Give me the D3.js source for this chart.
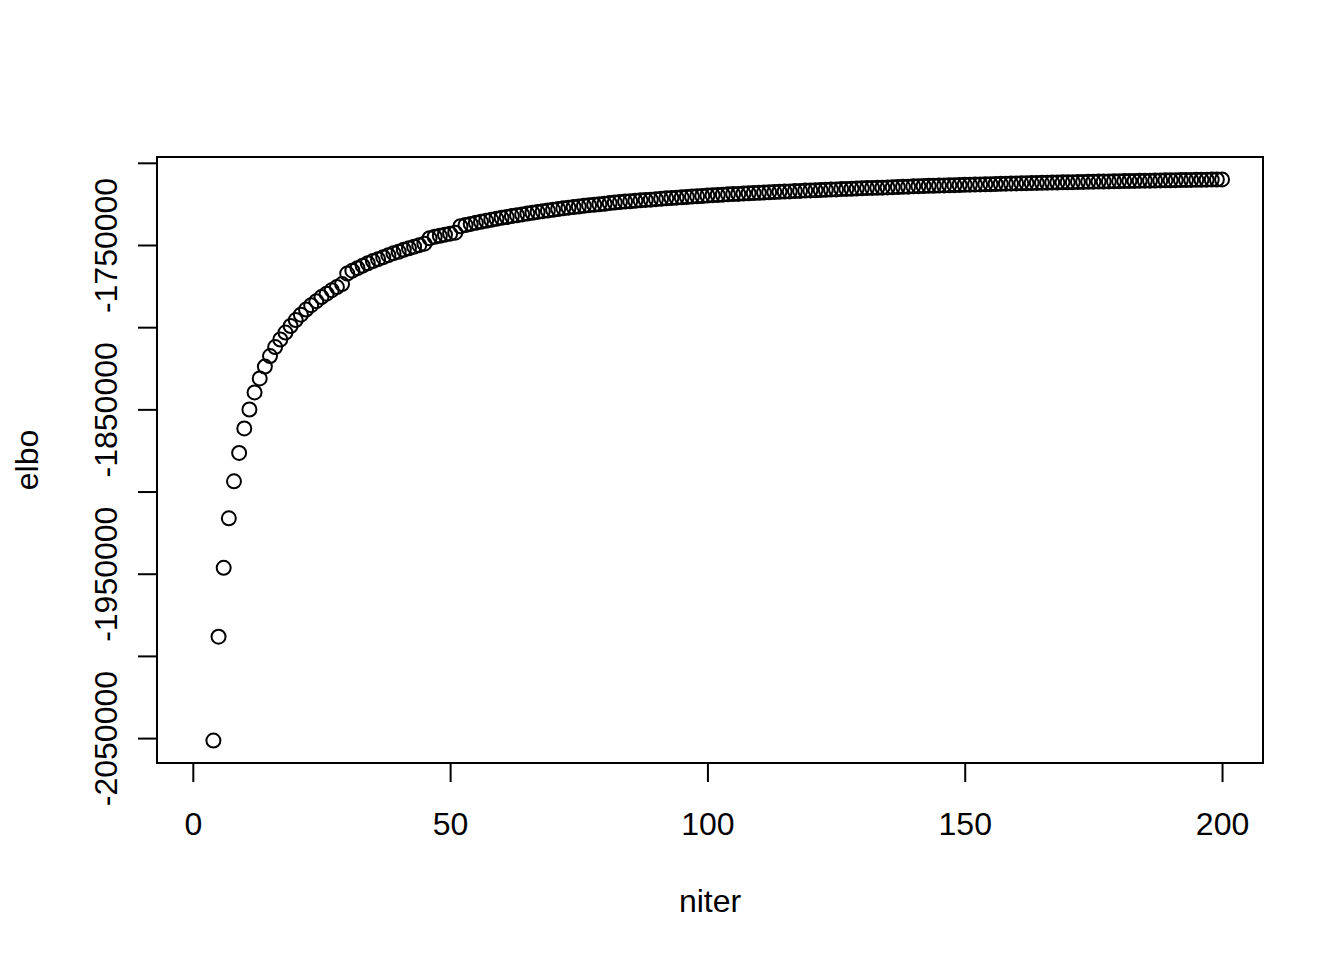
<!DOCTYPE html>
<html>
<head>
<meta charset="utf-8">
<script src="https://cdn.jsdelivr.net/npm/d3@7"></script>
<style>
  body { margin: 0; background: #fff; }
  svg text { font-family: "Liberation Sans", Arial, Helvetica, sans-serif; font-size: 32px; fill: #000; }
</style>
</head>
<body>
<svg id="chart" width="1344" height="960"></svg>
<script>
// elbo per iteration; the first three iterations have no finite value
const elbo = [
    null, null, null,
    -2051500, -1988300, -1946400, -1916300, -1893800, -1876500, -1861600,
    -1850100, -1839700, -1831200, -1824000, -1817600, -1812100, -1807500, -1803300, -1799300, -1795700,
    -1792400, -1789300, -1786600, -1784200, -1781700, -1779600, -1777500, -1775600, -1773800, -1767400,
    -1765600, -1764100, -1762600, -1761100, -1759800, -1758600, -1757400, -1756200, -1755000, -1754100,
    -1752900, -1752000, -1751000, -1750100, -1749200, -1745900, -1745000, -1744400, -1743700, -1743100,
    -1742500, -1738600, -1737900, -1737200, -1736500, -1735900, -1735300, -1734700, -1734100, -1733500,
    -1733000, -1732400, -1731900, -1731400, -1730900, -1730400, -1729900, -1729400, -1729000, -1728600,
    -1728100, -1727700, -1727300, -1726900, -1726600, -1726200, -1725800, -1725500, -1725200, -1724900,
    -1724500, -1724200, -1723900, -1723600, -1723400, -1723100, -1722800, -1722600, -1722400, -1722100,
    -1721900, -1721600, -1721400, -1721200, -1721000, -1720800, -1720500, -1720400, -1720200, -1719900,
    -1719700, -1719600, -1719400, -1719200, -1719000, -1718900, -1718700, -1718500, -1718400, -1718200,
    -1718100, -1717900, -1717800, -1717600, -1717500, -1717400, -1717200, -1717100, -1716900, -1716800,
    -1716700, -1716600, -1716400, -1716300, -1716200, -1716000, -1715900, -1715800, -1715700, -1715500,
    -1715400, -1715300, -1715200, -1715100, -1715000, -1714800, -1714700, -1714600, -1714500, -1714300,
    -1714210, -1714120, -1714030, -1713940, -1713850, -1713760, -1713670, -1713580, -1713490, -1713400,
    -1713310, -1713220, -1713140, -1713050, -1712970, -1712880, -1712800, -1712720, -1712630, -1712550,
    -1712480, -1712400, -1712330, -1712260, -1712190, -1712110, -1712040, -1711970, -1711900, -1711830,
    -1711760, -1711690, -1711630, -1711560, -1711500, -1711430, -1711360, -1711300, -1711230, -1711170,
    -1711110, -1711060, -1711000, -1710950, -1710890, -1710840, -1710780, -1710730, -1710670, -1710620,
    -1710570, -1710520, -1710470, -1710420, -1710370, -1710320, -1710270, -1710220, -1710170, -1710120
];
const niter = d3.range(1, elbo.length + 1);

const xTicks = [0, 50, 100, 150, 200];
const yTicks = [-2050000, -2000000, -1950000, -1900000, -1850000, -1800000, -1750000, -1700000];
const yLabelled = [-2050000, -1950000, -1850000, -1750000];

// plot region, R style (4% padding around data range)
const box = { left: 157, right: 1263, top: 157, bottom: 763 };
const line = 38.4;

function pad(ext) {
    const d = (ext[1] - ext[0]) * 0.04;
    return [ext[0] - d, ext[1] + d];
}

const points = niter.map((n, i) => ({ n: n, v: elbo[i] })).filter(d => d.v != null);

const x = d3.scaleLinear()
    .domain(pad(d3.extent(niter)))
    .range([box.left, box.right]);

const y = d3.scaleLinear()
    .domain(pad(d3.extent(points, d => d.v)))
    .range([box.bottom, box.top]);

const svg = d3.select("#chart");

svg.append("rect")
    .attr("x", box.left)
    .attr("y", box.top)
    .attr("width", box.right - box.left)
    .attr("height", box.bottom - box.top)
    .attr("fill", "none")
    .attr("stroke", "#000")
    .attr("stroke-width", 2);

const xAxis = svg.append("g")
    .attr("transform", `translate(0, ${box.bottom})`)
    .call(d3.axisBottom(x).tickValues(xTicks).tickSize(19).tickFormat(d3.format("d")));
xAxis.select(".domain").remove();
xAxis.selectAll("line").attr("stroke-width", 2);
xAxis.selectAll("text")
    .attr("y", 72)
    .attr("dy", null)
    .attr("font-size", null)
    .attr("font-family", null);

const yAxis = svg.append("g")
    .attr("transform", `translate(${box.left}, 0)`)
    .call(d3.axisLeft(y).tickValues(yTicks).tickSize(19)
        .tickFormat(d => yLabelled.includes(d) ? String(d) : ""));
yAxis.select(".domain").remove();
yAxis.selectAll("line").attr("stroke-width", 2);
yAxis.selectAll("text")
    .attr("transform", "rotate(-90)")
    .attr("x", 0)
    .attr("y", -line - 2)
    .attr("dy", null)
    .attr("text-anchor", "middle")
    .attr("font-size", null)
    .attr("font-family", null);

svg.append("text")
    .attr("x", (box.left + box.right) / 2)
    .attr("y", box.bottom + 149)
    .attr("text-anchor", "middle")
    .text("niter");

svg.append("text")
    .attr("transform", `translate(${box.left - 3 * line - 4}, ${(box.top + box.bottom) / 2}) rotate(-90)`)
    .attr("text-anchor", "middle")
    .text("elbo");

svg.append("g")
    .selectAll("circle")
    .data(points)
    .join("circle")
    .attr("cx", d => x(d.n))
    .attr("cy", d => y(d.v))
    .attr("r", 7)
    .attr("fill", "none")
    .attr("stroke", "#000")
    .attr("stroke-width", 2);
</script>
</body>
</html>
